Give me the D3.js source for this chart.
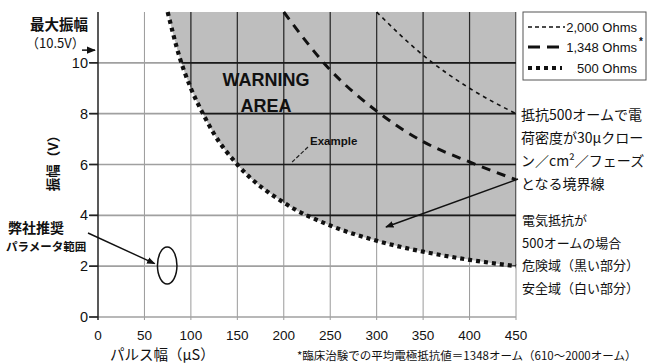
<!DOCTYPE html>
<html>
<head>
<meta charset="utf-8">
<script src="https://cdn.jsdelivr.net/npm/d3@7"></script>
<style>
  body { margin: 0; background: #fff; }
  text { font-family: "Liberation Sans", Arial, sans-serif; fill: #111; }
  .jp { font-family: "Noto Sans CJK JP", sans-serif; }
</style>
</head>
<body>
<svg id="chart" width="648" height="363"></svg>
<script>
const width = 648;
const height = 363;
const svg = d3.select("#chart");

// pulse width (µs) / amplitude (V)
const t500 = [75, 88, 100, 113, 125, 150, 200, 250, 300, 350, 400, 450];
const v500 = [12, 10.2, 9, 8, 7.2, 6, 4.5, 3.6, 3, 2.57, 2.25, 2];
const t1348 = [200, 248, 300, 350, 400, 450];
const v1348 = [12, 9.8, 8.1, 6.9, 6.1, 5.4];
const t2000 = [300, 350, 400, 450];
const v2000 = [12, 10.3, 9, 8];

const xTicks = [0, 50, 100, 150, 200, 250, 300, 350, 400, 450];
const yTicks = [0, 2, 4, 6, 8, 10];

// recommended parameter range (ellipse), pulse width and amplitude span
const recT = [64, 85];
const recV = [1.3, 2.75];

const legendLabels = ["2,000 Ohms", "1,348 Ohms", "500 Ohms"];
const rightNote1 = ["抵抗500オームで電", "荷密度が30μクロー", "ン／cm²／フェーズ", "となる境界線"];
const rightNote2 = ["電気抵抗が", "500オームの場合", "危険域（黒い部分）", "安全域（白い部分）"];

const x = d3.scaleLinear().domain([0, 450]).range([98, 516]);
const y = d3.scaleLinear().domain([0, 12]).range([317, 12]);

const pts = (ts, vs) => ts.map((t, i) => [t, vs[i]]);

const line = d3.line()
    .x(d => x(d[0]))
    .y(d => y(d[1]))
    .curve(d3.curveMonotoneX);

const area = d3.area()
    .x(d => x(d[0]))
    .y0(y(12))
    .y1(d => y(d[1]))
    .curve(d3.curveMonotoneX);

const defs = svg.append("defs");
defs.append("clipPath").attr("id", "warnClip")
    .append("path").attr("d", area(pts(t500, v500)));

defs.append("marker")
    .attr("id", "arrow")
    .attr("viewBox", "0 0 10 10")
    .attr("refX", 9).attr("refY", 5)
    .attr("markerWidth", 6).attr("markerHeight", 6)
    .attr("orient", "auto")
    .append("path")
    .attr("d", "M0,1 L10,5 L0,9 Z")
    .attr("fill", "#111");

// warning area
svg.append("path")
    .attr("d", area(pts(t500, v500)))
    .attr("fill", "#bebebe");

// light grid (white part)
const grid = svg.append("g");
grid.selectAll(".vg")
    .data(xTicks.slice(1))
    .join("line")
    .attr("x1", d => x(d)).attr("x2", d => x(d))
    .attr("y1", y(12)).attr("y2", y(0) + 3)
    .attr("stroke", "#9a9a9a").attr("stroke-width", 1);
grid.selectAll(".hg")
    .data(yTicks)
    .join("line")
    .attr("x1", 90).attr("x2", x(450))
    .attr("y1", d => y(d)).attr("y2", d => y(d))
    .attr("stroke", "#a0a0a0").attr("stroke-width", 1.6);

// dark grid inside warning area
const darkGrid = svg.append("g").attr("clip-path", "url(#warnClip)");
darkGrid.selectAll("line.v")
    .data(xTicks.slice(1))
    .join("line")
    .attr("x1", d => x(d)).attr("x2", d => x(d))
    .attr("y1", y(12)).attr("y2", y(0))
    .attr("stroke", "#2a2a2a").attr("stroke-width", 1.2);
darkGrid.selectAll("line.h")
    .data(yTicks.slice(1))
    .join("line")
    .attr("class", "h")
    .attr("x1", x(0)).attr("x2", x(450))
    .attr("y1", d => y(d)).attr("y2", d => y(d))
    .attr("stroke", "#1a1a1a").attr("stroke-width", 1.6);

// y axis line and ticks
svg.append("line")
    .attr("x1", x(0)).attr("x2", x(0))
    .attr("y1", y(12)).attr("y2", y(0) + 3)
    .attr("stroke", "#222").attr("stroke-width", 1.5);
svg.selectAll(".ytick")
    .data(yTicks)
    .join("line")
    .attr("x1", 89).attr("x2", x(0))
    .attr("y1", d => y(d)).attr("y2", d => y(d))
    .attr("stroke", "#222").attr("stroke-width", 1.6);

svg.selectAll(".ylab")
    .data(yTicks)
    .join("text")
    .attr("x", 88).attr("y", d => y(d))
    .attr("text-anchor", "end")
    .attr("dominant-baseline", "central")
    .attr("font-size", 14.5)
    .text(d => d);

svg.selectAll(".xlab")
    .data(xTicks)
    .join("text")
    .attr("x", d => x(d)).attr("y", 335)
    .attr("text-anchor", "middle")
    .attr("dominant-baseline", "central")
    .attr("font-size", 13.5)
    .text(d => d);

// boundary curves
svg.append("path")
    .attr("d", line(pts(t2000, v2000)))
    .attr("fill", "none").attr("stroke", "#111")
    .attr("stroke-width", 1.6).attr("stroke-dasharray", "4 4");
svg.append("path")
    .attr("d", line(pts(t1348, v1348)))
    .attr("fill", "none").attr("stroke", "#111")
    .attr("stroke-width", 3).attr("stroke-dasharray", "9 7");
svg.append("path")
    .attr("d", line(pts(t500, v500)))
    .attr("fill", "none").attr("stroke", "#111")
    .attr("stroke-width", 4.2).attr("stroke-dasharray", "4 4");

// recommended range ellipse
svg.append("ellipse")
    .attr("cx", x((recT[0] + recT[1]) / 2))
    .attr("cy", y((recV[0] + recV[1]) / 2))
    .attr("rx", (x(recT[1]) - x(recT[0])) / 2)
    .attr("ry", (y(recV[0]) - y(recV[1])) / 2)
    .attr("fill", "none").attr("stroke", "#111").attr("stroke-width", 1.5);

// labels in the chart
svg.append("text")
    .attr("x", 266).attr("y", 86)
    .attr("text-anchor", "middle")
    .attr("font-size", 18).attr("font-weight", "bold")
    .text("WARNING");
svg.append("text")
    .attr("x", 266).attr("y", 112)
    .attr("text-anchor", "middle")
    .attr("font-size", 18).attr("font-weight", "bold")
    .text("AREA");
svg.append("text")
    .attr("x", 310).attr("y", 145)
    .attr("font-size", 11.5).attr("font-weight", "bold")
    .text("Example");
svg.append("line")
    .attr("x1", 308).attr("y1", 147)
    .attr("x2", x(209)).attr("y2", y(6.1))
    .attr("stroke", "#222").attr("stroke-width", 1.2)
    .attr("stroke-dasharray", "4 2");

// top-left labels
svg.append("text").attr("class", "jp")
    .attr("x", 30).attr("y", 30)
    .attr("font-size", 14.5).attr("font-weight", "bold")
    .text("最大振幅");
svg.append("text").attr("class", "jp")
    .attr("x", 26).attr("y", 48)
    .attr("font-size", 13)
    .text("（10.5V）");
svg.append("line")
    .attr("x1", 82).attr("x2", 95)
    .attr("y1", y(10.5)).attr("y2", y(10.5))
    .attr("stroke", "#111").attr("stroke-width", 1.5)
    .attr("marker-end", "url(#arrow)");

// y axis title
svg.append("text").attr("class", "jp")
    .attr("transform", "translate(52,160) rotate(-90)")
    .attr("text-anchor", "middle")
    .attr("dominant-baseline", "central")
    .attr("font-size", 13.5).attr("font-weight", "bold")
    .text("振幅（V）");

// recommended range label
svg.append("text").attr("class", "jp")
    .attr("x", 8).attr("y", 233)
    .attr("font-size", 14).attr("font-weight", "bold")
    .text("弊社推奨");
svg.append("text").attr("class", "jp")
    .attr("x", 6).attr("y", 251)
    .attr("font-size", 11.5).attr("font-weight", "bold")
    .text("パラメータ範囲");
svg.append("line")
    .attr("x1", 88).attr("y1", 233)
    .attr("x2", x(61)).attr("y2", y(2.1))
    .attr("stroke", "#111").attr("stroke-width", 1.4)
    .attr("marker-end", "url(#arrow)");

// x axis titles
svg.append("text").attr("class", "jp")
    .attr("x", 110).attr("y", 360)
    .attr("font-size", 14.5)
    .text("パルス幅（μS）");
svg.append("text").attr("class", "jp")
    .attr("x", 297).attr("y", 360)
    .attr("font-size", 11.5).attr("fill", "#333")
    .text("*臨床治験での平均電極抵抗値＝1348オーム（610〜2000オーム）");

// right-side notes
svg.selectAll(".note1")
    .data(rightNote1)
    .join("text").attr("class", "jp")
    .attr("x", 521).attr("y", (d, i) => 120 + i * 23)
    .attr("font-size", 14)
    .text(d => d);
svg.selectAll(".note2")
    .data(rightNote2)
    .join("text").attr("class", "jp")
    .attr("x", 522).attr("y", (d, i) => 225 + i * 22.5)
    .attr("font-size", 13)
    .text(d => d);
svg.append("line")
    .attr("x1", 518).attr("y1", 179)
    .attr("x2", x(310)).attr("y2", y(3.54))
    .attr("stroke", "#111").attr("stroke-width", 1.4)
    .attr("marker-end", "url(#arrow)");

// legend
const legend = svg.append("g");
legend.append("rect")
    .attr("x", 523).attr("y", 12)
    .attr("width", 123).attr("height", 68)
    .attr("fill", "#fff").attr("stroke", "#555").attr("stroke-width", 1);
const legendStyles = [
    { w: 1.6, dash: "4 3", y: 27 },
    { w: 3, dash: "12 7", y: 47 },
    { w: 4, dash: "4 4", y: 68 }
];
legend.selectAll(".ls")
    .data(legendLabels)
    .join("line")
    .attr("x1", 528).attr("x2", (d, i) => i === 0 ? 565 : 562)
    .attr("y1", (d, i) => legendStyles[i].y).attr("y2", (d, i) => legendStyles[i].y)
    .attr("stroke", "#111")
    .attr("stroke-width", (d, i) => legendStyles[i].w)
    .attr("stroke-dasharray", (d, i) => legendStyles[i].dash);
legend.selectAll(".lt")
    .data(legendLabels)
    .join("text")
    .attr("x", 637).attr("y", (d, i) => legendStyles[i].y)
    .attr("text-anchor", "end")
    .attr("dominant-baseline", "central")
    .attr("font-size", 13)
    .text(d => d);
legend.append("text")
    .attr("x", 639).attr("y", 45)
    .attr("font-size", 10).attr("font-weight", "bold")
    .text("*");
</script>
</body>
</html>
